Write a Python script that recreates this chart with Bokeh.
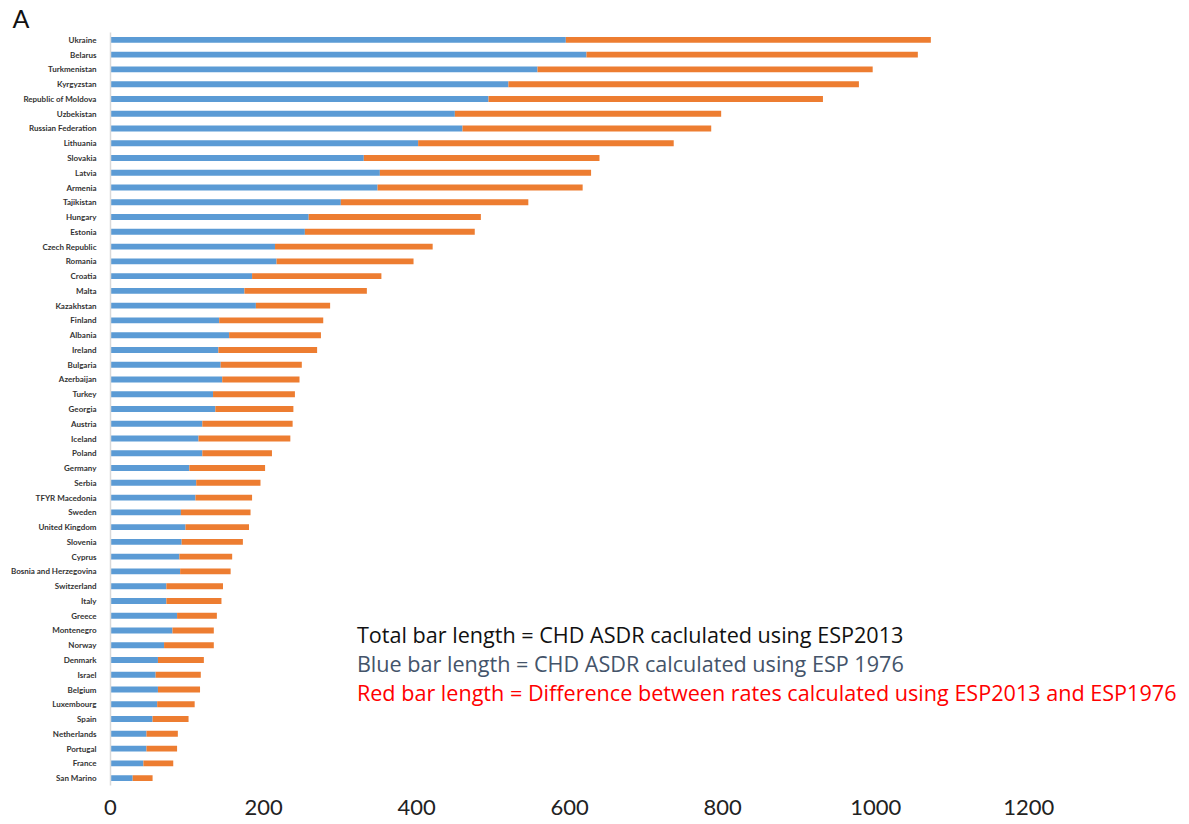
from bokeh.plotting import figure
from bokeh.models import ColumnDataSource, Range1d, FactorRange, Label, FixedTicker
from bokeh.embed import file_html
from bokeh.resources import INLINE

# CHD age-standardised death rates per country, ordered from highest to lowest
countries = [
    "Ukraine", "Belarus", "Turkmenistan", "Kyrgyzstan", "Republic of Moldova",
    "Uzbekistan", "Russian Federation", "Lithuania", "Slovakia", "Latvia",
    "Armenia", "Tajikistan", "Hungary", "Estonia", "Czech Republic",
    "Romania", "Croatia", "Malta", "Kazakhstan", "Finland",
    "Albania", "Ireland", "Bulgaria", "Azerbaijan", "Turkey",
    "Georgia", "Austria", "Iceland", "Poland", "Germany",
    "Serbia", "TFYR Macedonia", "Sweden", "United Kingdom", "Slovenia",
    "Cyprus", "Bosnia and Herzegovina", "Switzerland", "Italy", "Greece",
    "Montenegro", "Norway", "Denmark", "Israel", "Belgium",
    "Luxembourg", "Spain", "Netherlands", "Portugal", "France",
    "San Marino",
]
# rate using the 1976 European Standard Population (blue part)
asdr_esp1976 = [
    595, 622, 558, 520, 494,
    450, 460, 402, 331, 352,
    349, 301, 259, 254, 215,
    217, 185, 175, 190, 142,
    155, 141, 144, 146, 134,
    137, 120, 115, 120, 103,
    112, 111, 92, 98, 93,
    90, 91, 73, 73, 87,
    81, 70, 62, 59, 62,
    61, 55, 47, 47, 43,
    29,
]
# rate using the 2013 European Standard Population (total bar)
asdr_esp2013 = [
    1072, 1055, 996, 978, 931,
    798, 785, 736, 639, 628,
    617, 546, 484, 476, 421,
    396, 354, 335, 287, 278,
    275, 270, 250, 247, 241,
    239, 238, 235, 211, 202,
    196, 185, 183, 181, 173,
    159, 157, 147, 145, 139,
    135, 135, 122, 118, 117,
    110, 102, 88, 87, 82,
    55,
]
x_ticks = [0, 200, 400, 600, 800, 1000, 1200]

difference = [t - b for t, b in zip(asdr_esp2013, asdr_esp1976)]

source = ColumnDataSource(dict(
    country=countries,
    esp1976=asdr_esp1976,
    esp2013=asdr_esp2013,
    diff=difference,
))

factors = list(reversed(countries))

p = figure(
    width=1189, height=824,
    x_range=Range1d(0, 1410),
    y_range=FactorRange(factors=factors, range_padding=0),
    output_backend="svg", toolbar_location=None,
    min_border_left=110, min_border_right=0,
    min_border_top=30, min_border_bottom=39,
    title="A",
)

# panel letter in the top-left corner
p.title.text_font = "Lato"
p.title.text_font_style = "normal"
p.title.text_font_size = "25px"
p.title.text_color = "#111111"
p.title.align = "left"
p.title.offset = -98
p.title.standoff = 0

BLUE = "#5B9BD5"
ORANGE = "#ED7D31"

p.hbar(y="country", left=0, right="esp1976", height=0.4,
       fill_color=BLUE, line_color=None, source=source)
p.hbar(y="country", left="esp1976", right="esp2013", height=0.4,
       fill_color=ORANGE, line_color=None, source=source)

p.outline_line_color = None
p.xgrid.grid_line_color = None
p.ygrid.grid_line_color = None

# x axis: large numbers only
p.xaxis.ticker = FixedTicker(ticks=x_ticks)
p.xaxis.axis_line_color = None
p.xaxis.major_tick_line_color = None
p.xaxis.minor_tick_line_color = None
p.xaxis.major_label_text_font = "Lato"
p.xaxis.major_label_text_font_size = "22px"
p.xaxis.major_label_text_color = "#222222"
p.xaxis.major_label_standoff = 8

# y axis: thin grey spine with small country names
p.yaxis.axis_line_color = "#D9D9D9"
p.yaxis.axis_line_width = 1.5
p.yaxis.major_tick_line_color = None
p.yaxis.minor_tick_line_color = None
p.yaxis.major_label_text_font = "Lato"
p.yaxis.major_label_text_font_size = "8px"
p.yaxis.major_label_text_font_style = "bold"
p.yaxis.major_label_text_color = "#333333"
p.yaxis.major_label_standoff = 8

# explanation of bar segments
notes = [
    ("Total bar length = CHD ASDR caclulated using ESP2013", "#111111", 10.2),
    ("Blue bar length = CHD ASDR calculated using ESP 1976", "#44546A", 8.28),
    ("Red bar length = Difference between rates calculated using ESP2013 and ESP1976", "#FF0000", 6.28),
]
for txt, col, yy in notes:
    p.add_layout(Label(x=322, y=yy, text=txt, text_font="Open Sans",
                       text_font_size="21.6px", text_color=col,
                       text_baseline="middle"))

open("out.html", "w").write(file_html(p, INLINE))
